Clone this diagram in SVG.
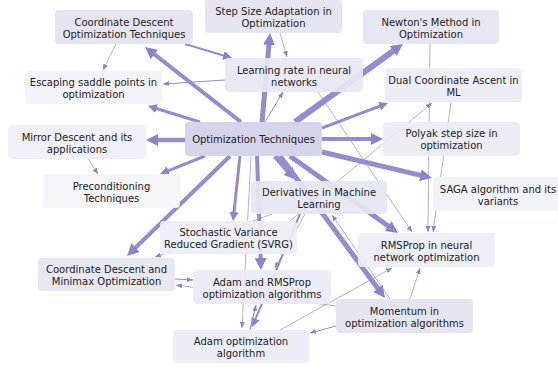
<svg xmlns="http://www.w3.org/2000/svg" width="558" height="367" viewBox="0 0 558 367">
<defs>
<style>
.n rect{rx:4;ry:4}
.n text{font-family:"DejaVu Sans","Liberation Sans",sans-serif;font-size:10px;fill:#222;text-anchor:middle}
.e path{fill:none;stroke:#938dcf}
.t{stroke-width:0.7;stroke:#a9a4db}
</style>
<marker id="aL" markerUnits="userSpaceOnUse" markerWidth="12" markerHeight="12" refX="6" refY="6" orient="auto"><path d="M0,0L12,6L0,12z" fill="#8a84c9"/></marker>
<marker id="aM" markerUnits="userSpaceOnUse" markerWidth="9" markerHeight="9" refX="4.5" refY="4.5" orient="auto"><path d="M0,0L9,4.5L0,9z" fill="#8a84c9"/></marker>
<marker id="aS" markerUnits="userSpaceOnUse" markerWidth="6" markerHeight="5" refX="6" refY="2.5" orient="auto"><path d="M0,0L6,2.5L0,5z" fill="#8a84c9"/></marker>
</defs>
<rect width="558" height="367" fill="#fff"/>
<g id="edges" class="e">
<path d="M241,122L149.7,50.7" stroke-width="4" marker-end="url(#aL)"/>
<path d="M200,122L152.3,107.3" stroke-width="3" marker-end="url(#aM)"/>
<path d="M185,140L152,140" stroke-width="4.5" marker-end="url(#aL)"/>
<path d="M205,156L164.2,172.3" stroke-width="3" marker-end="url(#aM)"/>
<path d="M230,156L131.3,251.8" stroke-width="4" marker-end="url(#aL)"/>
<path d="M262,122L269.5,39" stroke-width="5" marker-end="url(#aL)"/>
<path d="M295,122L398.1,47.5" stroke-width="6" marker-end="url(#aL)"/>
<path d="M322,128L383.8,104.6" stroke-width="3" marker-end="url(#aM)"/>
<path d="M322,139L377,139" stroke-width="4" marker-end="url(#aL)"/>
<path d="M322,152L426.2,176.6" stroke-width="5" marker-end="url(#aL)"/>
<path d="M275,156L292.1,175.5" stroke-width="5" marker-end="url(#aL)"/>
<path d="M290,156L393.1,229.5" stroke-width="5" marker-end="url(#aL)"/>
<path d="M280,156L381.4,293.2" stroke-width="5" marker-end="url(#aL)"/>
<path d="M240,156L233.5,216.5" stroke-width="3" marker-end="url(#aM)"/>
<path d="M257,156L260.8,264" stroke-width="4" marker-end="url(#aL)"/>
<path d="M265,122L283,92" stroke-width="1" marker-end="url(#aS)"/>
<path d="M251,156L242,328" class="t" marker-end="url(#aS)"/>
<path d="M116,44L103,70" class="t" marker-end="url(#aS)"/>
<path d="M185,44L227.7,56.7" stroke-width="2" marker-end="url(#aM)"/>
<path d="M280,33L287,57" class="t" marker-end="url(#aS)"/>
<path d="M225,80L163,84" stroke-width="1" marker-end="url(#aS)"/>
<path d="M318,92L412,232" class="t" marker-end="url(#aS)"/>
<path d="M430,44L428,232" class="t" marker-end="url(#aS)"/>
<path d="M451,102L433,232" class="t" marker-end="url(#aS)"/>
<path d="M290,221L432,103" class="t" marker-end="url(#aS)"/>
<path d="M272,214L155,257" class="t" marker-end="url(#aS)"/>
<path d="M88,159L98,174" class="t" marker-end="url(#aS)"/>
<path d="M175,279L193,280" stroke-width="1" marker-end="url(#aS)"/>
<path d="M336,306L176,285" class="t" marker-end="url(#aS)"/>
<path d="M280,330L392,268" class="t" marker-end="url(#aS)"/>
<path d="M336,326L310,333" stroke-width="1" marker-end="url(#aS)"/>
<path d="M390,299L332,215" class="t" marker-end="url(#aS)"/>
<path d="M410,299L420,268" class="t" marker-end="url(#aS)"/>
<path d="M300,214L253.8,322.9" stroke-width="2" marker-end="url(#aM)"/>
<path d="M250,330L256,305" stroke-width="1.2" marker-end="url(#aS)"/>
<path d="M305,214L275,268" class="t" marker-end="url(#aS)"/>
</g>
<g id="n1" class="n"><rect x="55" y="10" width="138" height="34" fill="#e3e3f1" fill-opacity="0.92"/><text x="124" y="25.5">Coordinate Descent</text><text x="124" y="37.5">Optimization Techniques</text></g>
<g id="n2" class="n"><rect x="205" y="-1" width="137" height="34" fill="#e3e3f1" fill-opacity="0.92"/><text x="273.5" y="14.5">Step Size Adaptation in</text><text x="273.5" y="26.5">Optimization</text></g>
<g id="n3" class="n"><rect x="363" y="10" width="136" height="34" fill="#e5e5f3" fill-opacity="0.92"/><text x="431" y="25.5">Newton's Method in</text><text x="431" y="37.5">Optimization</text></g>
<g id="n4" class="n"><rect x="225" y="58" width="138" height="34" fill="#e7e7f3" fill-opacity="0.92"/><text x="294" y="73.5">Learning rate in neural</text><text x="294" y="85.5">networks</text></g>
<g id="n5" class="n"><rect x="25" y="71" width="137" height="33" fill="#f2f2f8" fill-opacity="0.92"/><text x="93.5" y="86">Escaping saddle points in</text><text x="93.5" y="98">optimization</text></g>
<g id="n6" class="n"><rect x="385" y="68" width="137" height="34" fill="#ebebf5" fill-opacity="0.92"/><text x="453.5" y="83.5">Dual Coordinate Ascent in</text><text x="453.5" y="95.5">ML</text></g>
<g id="n7" class="n"><rect x="8" y="125" width="138" height="34" fill="#efeff7" fill-opacity="0.92"/><text x="77" y="140.5">Mirror Descent and its</text><text x="77" y="152.5">applications</text></g>
<g id="n8" class="n"><rect x="185" y="122" width="137" height="34" fill="#d2d2ea" fill-opacity="0.95"/><text x="253.5" y="142.5">Optimization Techniques</text></g>
<g id="n9" class="n"><rect x="383" y="122" width="137" height="34" fill="#ebebf5" fill-opacity="0.92"/><text x="451.5" y="137">Polyak step size in</text><text x="451.5" y="149">optimization</text></g>
<g id="n10" class="n"><rect x="43" y="174" width="137" height="34" fill="#f4f4f9" fill-opacity="0.92"/><text x="111.5" y="189.5">Preconditioning</text><text x="111.5" y="201.5">Techniques</text></g>
<g id="n11" class="n"><rect x="251" y="181" width="136" height="33" fill="#e6e6f2" fill-opacity="0.92"/><text x="319" y="196">Derivatives in Machine</text><text x="319" y="208">Learning</text></g>
<g id="n12" class="n"><rect x="433" y="177" width="130" height="34" fill="#f1f1f8" fill-opacity="0.92"/><text x="498" y="192.5">SAGA algorithm and its</text><text x="498" y="204.5">variants</text></g>
<g id="n13" class="n"><rect x="160" y="221" width="137" height="33" fill="#ededf6" fill-opacity="0.92"/><text x="228.5" y="236">Stochastic Variance</text><text x="228.5" y="248">Reduced Gradient (SVRG)</text></g>
<g id="n14" class="n"><rect x="358" y="233" width="137" height="34" fill="#ededf6" fill-opacity="0.92"/><text x="426.5" y="248.5">RMSProp in neural</text><text x="426.5" y="260.5">network optimization</text></g>
<g id="n15" class="n"><rect x="38" y="258" width="137" height="33" fill="#e6e6f2" fill-opacity="0.92"/><text x="106.5" y="273">Coordinate Descent and</text><text x="106.5" y="285">Minimax Optimization</text></g>
<g id="n16" class="n"><rect x="193" y="270" width="138" height="34" fill="#eaeaf5" fill-opacity="0.92"/><text x="262" y="285.5">Adam and RMSProp</text><text x="262" y="297.5">optimization algorithms</text></g>
<g id="n17" class="n"><rect x="336" y="299" width="137" height="34" fill="#e3e3f1" fill-opacity="0.92"/><text x="404.5" y="314.5">Momentum in</text><text x="404.5" y="326.5">optimization algorithms</text></g>
<g id="n18" class="n"><rect x="173" y="330" width="136" height="33" fill="#ebebf5" fill-opacity="0.92"/><text x="241" y="345">Adam optimization</text><text x="241" y="357">algorithm</text></g>
</svg>
